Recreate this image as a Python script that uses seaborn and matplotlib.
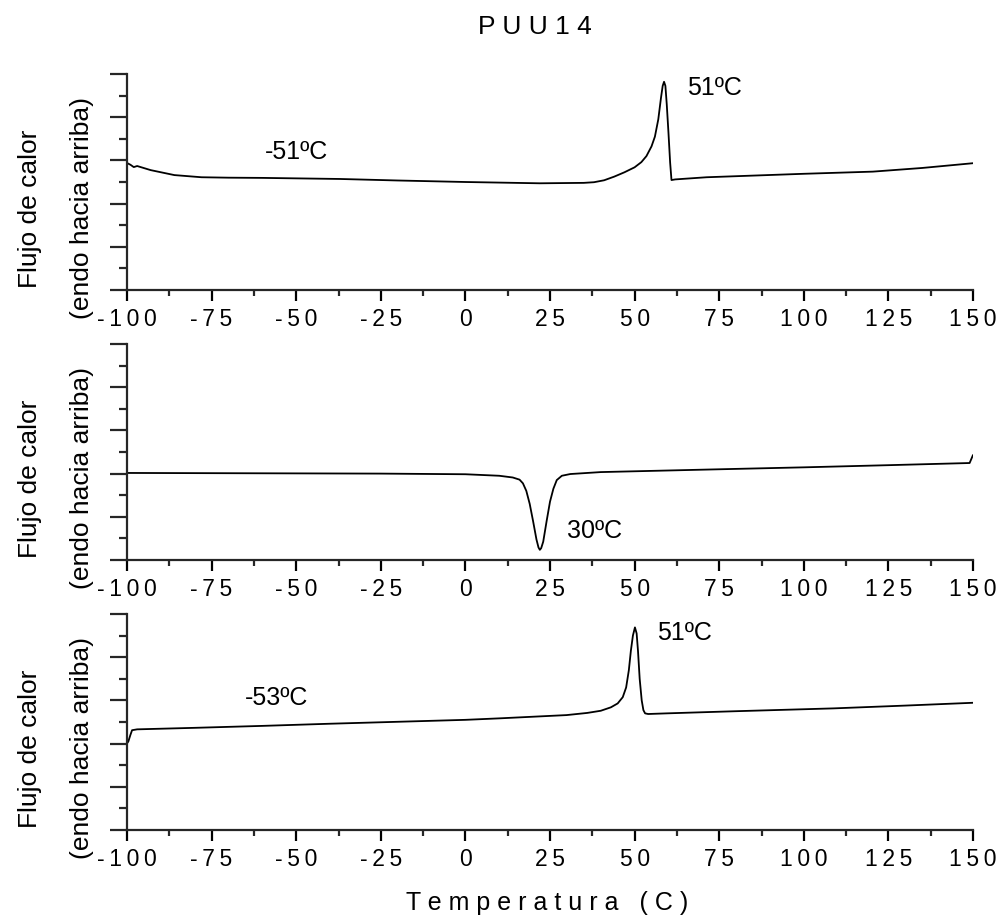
import matplotlib
matplotlib.use("Agg")
import matplotlib.pyplot as plt
from matplotlib.ticker import MultipleLocator, FixedLocator, FixedFormatter
import seaborn as sns
import pandas as pd

# --- DSC traces (temperature in C, heat flow in arbitrary units) ---
heat1_t = [-100, -99, -98, -97, -93, -86, -78, -70, -60, -37, -20, 0, 22, 35, 38,
           41, 44, 47, 50, 52, 53.5, 55, 56, 57, 57.8, 58.3, 58.7, 59.1, 59.5,
           60, 60.5, 60.9, 62, 71.3, 100, 120.4, 135, 150]
heat1_q = [5.88, 5.80, 5.69, 5.74, 5.55, 5.32, 5.22, 5.20, 5.19, 5.14, 5.07, 5.00,
           4.94, 4.96, 4.99, 5.08, 5.25, 5.45, 5.68, 5.92, 6.20, 6.65, 7.10, 7.90,
           8.90, 9.45, 9.64, 9.45, 8.60, 7.30, 5.90, 5.09, 5.12, 5.22, 5.38, 5.48,
           5.65, 5.87]

cool_t = [-100, -75, -50, -25, 0, 10, 14, 16, 17, 18, 19, 20, 21, 21.6, 22, 22.4,
          23, 24, 25, 26, 27, 28.5, 31, 40, 75, 100, 125, 149, 150]
cool_q = [4.03, 4.02, 4.01, 4.00, 3.97, 3.90, 3.82, 3.72, 3.55, 3.20, 2.60, 1.80,
          0.95, 0.58, 0.47, 0.55, 0.85, 1.80, 2.70, 3.30, 3.70, 3.90, 3.98, 4.07,
          4.20, 4.29, 4.39, 4.49, 4.86]

heat2_t = [-100, -99.6, -99, -98.5, -97, -80, -60, -40, -20, 0, 10.2, 29.9, 36,
           40, 43, 45, 46.5, 47.5, 48.3, 48.9, 49.5, 50.1, 50.6, 51.0, 51.5, 52.1,
           52.6, 53.1, 54, 59.5, 80, 108.7, 130, 150]
heat2_q = [4.01, 4.10, 4.40, 4.62, 4.66, 4.73, 4.82, 4.92, 5.01, 5.10, 5.17, 5.32,
           5.42, 5.52, 5.68, 5.86, 6.15, 6.60, 7.40, 8.30, 9.00, 9.38, 9.10, 8.30,
           7.00, 6.00, 5.55, 5.40, 5.37, 5.40, 5.50, 5.63, 5.76, 5.89]

# transition labels: (text, x, y) for each trace
labels1 = [("-51ºC", -59.2, 6.39), ("51ºC", 65.4, 9.34)]
labels2 = [("30ºC", 30.0, 1.35)]
labels3 = [("-53ºC", -65.1, 6.10), ("51ºC", 56.5, 9.12)]

x_ticks = [-100, -75, -50, -25, 0, 25, 50, 75, 100, 125, 150]
title = "PUU14"
x_title = "Temperatura (C)"
y_title = ["Flujo de calor", "(endo hacia arriba)"]

sns.set_theme(style="ticks")
plt.rcParams["font.family"] = ["Liberation Sans", "DejaVu Sans"]
plt.rcParams["axes.linewidth"] = 1.6


def spaced(s, sep):
    return sep.join(list(s))


fig = plt.figure(figsize=(10, 9.19), dpi=100)
panels = [
    (heat1_t, heat1_q, labels1, 1 - 290 / 919),
    (cool_t, cool_q, labels2, 1 - 560 / 919),
    (heat2_t, heat2_q, labels3, 1 - 830 / 919),
]

for t, q, labs, bottom in panels:
    ax = fig.add_axes([0.127, bottom, 0.846, 216 / 919])
    df = pd.DataFrame({"T": t, "Q": q})
    sns.lineplot(data=df, x="T", y="Q", ax=ax, color="black", lw=1.3,
                 sort=False, estimator=None)
    ax.set_xlim(-100, 150)
    ax.set_ylim(0, 10)
    sns.despine(ax=ax)
    ax.xaxis.set_major_locator(FixedLocator(x_ticks))
    ax.xaxis.set_major_formatter(
        FixedFormatter([spaced(str(v), "\u2009") for v in x_ticks]))
    ax.xaxis.set_minor_locator(MultipleLocator(12.5))
    ax.yaxis.set_major_locator(MultipleLocator(2))
    ax.yaxis.set_minor_locator(MultipleLocator(1))
    ax.tick_params(axis="x", which="major", length=8, width=1.6, pad=5,
                   labelsize=16.5, colors="black")
    ax.tick_params(axis="x", which="minor", length=4, width=1.6)
    ax.tick_params(axis="y", which="major", length=12, width=1.6,
                   labelleft=False)
    ax.tick_params(axis="y", which="minor", length=6, width=1.6)
    ax.set_xlabel("")
    ax.set_ylabel("")
    for txt, lx, ly in labs:
        ax.text(lx, ly, txt, fontsize=18, ha="left", va="center", color="black")
    ax.text(-0.1147, 0.375, y_title[0], transform=ax.transAxes, rotation=90,
            ha="center", va="center", fontsize=19, color="black")
    ax.text(-0.0532, 0.38, y_title[1], transform=ax.transAxes, rotation=90,
            ha="center", va="center", fontsize=19, color="black")

fig.text(0.535, 1 - 34.3 / 919, spaced(title, " "), ha="center",
         va="baseline", fontsize=19, color="black")
fig.text(0.5475, 1 - 910 / 919, spaced(x_title, " ").replace("a   (", "a   ("),
         ha="center", va="baseline", fontsize=18, color="black")

fig.savefig("out.png", dpi=100, facecolor="white")
